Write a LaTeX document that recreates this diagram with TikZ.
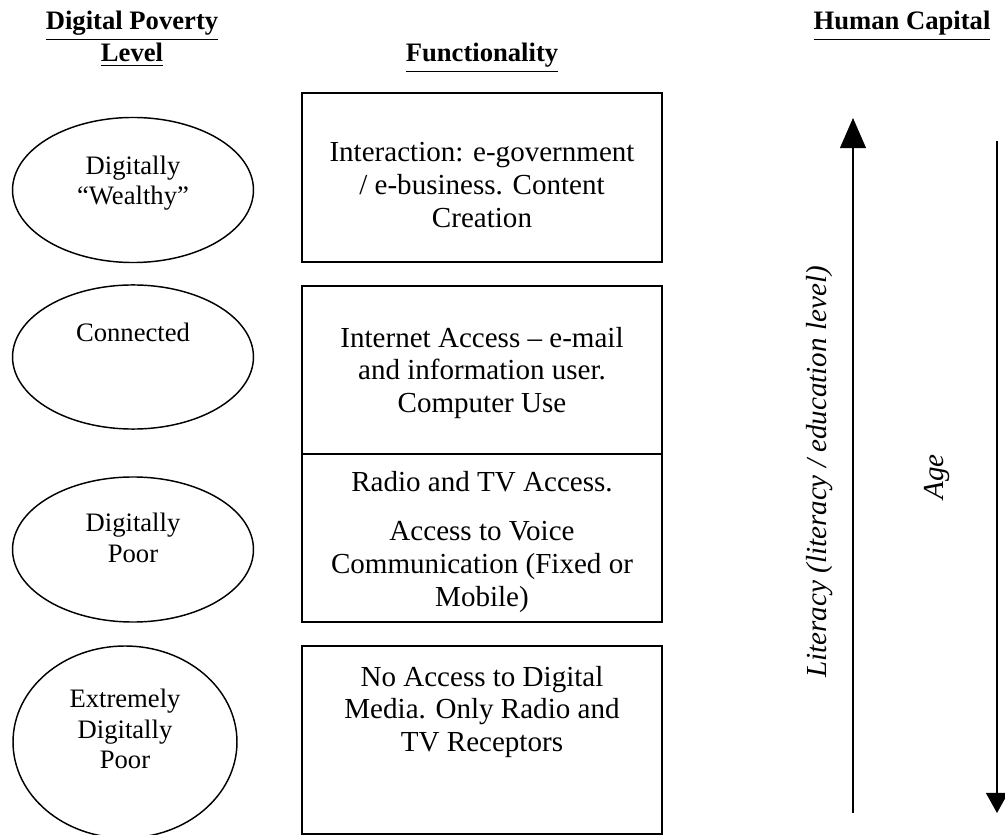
\documentclass[tikz,border=0pt]{standalone}
\usepackage{fontspec}
\setmainfont{Liberation Serif}
\usetikzlibrary{shapes.geometric,arrows.meta}

\tikzset{
  txt/.style={font=\fontsize{12}{13.5}\selectfont, align=center, inner sep=0pt},
  small/.style={txt, font=\fontsize{11}{12.5}\selectfont},
  head/.style={txt, font=\fontsize{11}{11.6}\selectfont\bfseries},
  level/.style={draw, line width=0.6pt, ellipse, inner sep=0pt},
  func/.style={draw, line width=0.8pt, rectangle, minimum width=148.7pt, inner sep=0pt},
  axis/.style={line width=0.45pt}
}

\begin{document}
\begin{tikzpicture}[x=0.413pt, y=-0.413pt]
\useasboundingbox (0,0) rectangle (1005,835);
% headers
\node[head] (hlevel) at (132,39) {\underline{Digital Poverty}\\\underline{Level}};
\node[head] (hfunc) at (482,58) {\underline{Functionality}};
\node[head] (hcap) at (902,26) {\underline{Human Capital}};
% poverty levels
\node[level, minimum width=99.5pt, minimum height=59.9pt] (wealthy) at (133,190) {};
\node[level, minimum width=99.5pt, minimum height=59.5pt] (connected) at (133,357) {};
\node[level, minimum width=99.5pt, minimum height=59.9pt] (poor) at (133,549.5) {};
\node[level, minimum width=92.5pt, minimum height=79.3pt] (xpoor) at (125,742) {};
\node[small] (twealthy) at (133,183) {Digitally\\``Wealthy''};
\node[small] (tconnected) at (133,332) {Connected};
\node[small] (tpoor) at (133,538) {Digitally\\Poor};
\node[small] (txpoor) at (125,729) {Extremely\\Digitally\\Poor};
% functionality
\node[func, minimum height=69.8pt] (interact) at (482,177.5) {};
\node[func, minimum height=69.4pt] (internet) at (482,370) {};
\node[func, minimum height=69.4pt] (radio) at (482,538) {};
\node[func, minimum height=77.6pt] (noaccess) at (482,740) {};
\node[txt] (tinteract) at (482,185) {Interaction: e-government\\/ e-business. Content\\Creation};
\node[txt] (tinternet) at (482,373) {Internet Access -- e-mail\\and information user.\\Computer Use};
\node[txt] (tradio1) at (482,482) {Radio and TV Access.};
\node[txt] (tradio2) at (482,567) {Access to Voice\\Communication (Fixed or\\Mobile)};
\node[txt] (tnoaccess) at (482,712) {No Access to Digital\\Media. Only Radio and\\TV Receptors};
% human capital
\coordinate (litlow) at (853,813);
\coordinate (lithigh) at (853,118);
\coordinate (agetop) at (997,141);
\coordinate (agelow) at (997,813);
\draw[axis, -{Triangle[length=12.4pt, width=10.7pt]}] (litlow) -- (lithigh);
\draw[axis, -{Triangle[length=8.3pt, width=9.1pt]}] (agetop) -- (agelow);
\node[txt, font=\fontsize{12}{13.5}\selectfont\itshape, rotate=90] (tlit) at (820,472) {Literacy (literacy / education level)};
\node[txt, font=\fontsize{12}{13.5}\selectfont\itshape, rotate=90] (tage) at (937,477) {Age};
\end{tikzpicture}
\end{document}
